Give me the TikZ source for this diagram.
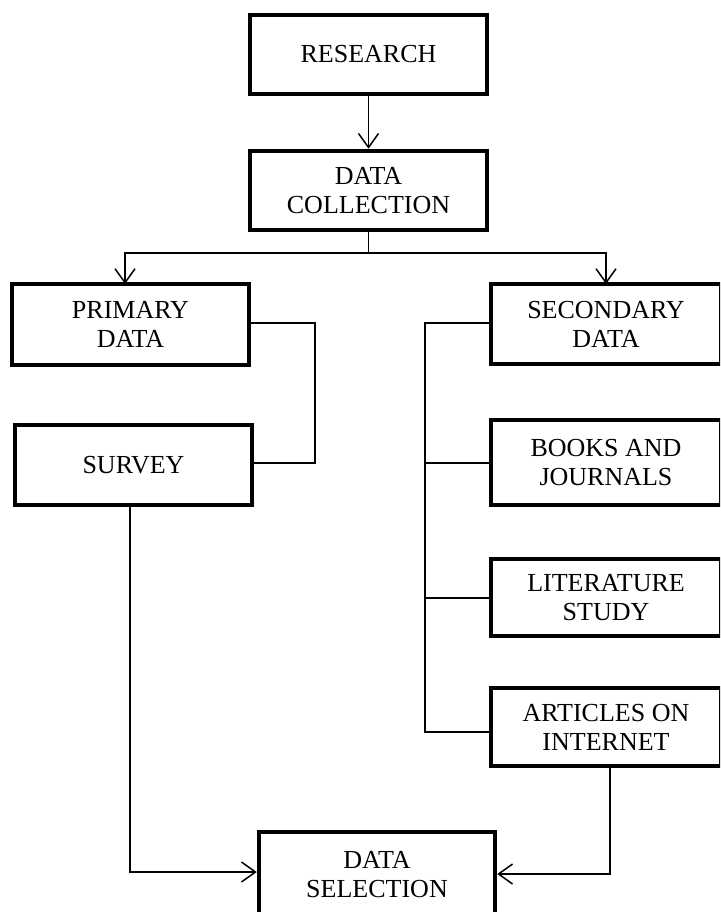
\documentclass[tikz,border=0pt]{standalone}
\usepackage{fontspec}
\setmainfont{Liberation Serif}
\usetikzlibrary{arrows.meta}
\begin{document}
\begin{tikzpicture}[x=1pt,y=-1pt,
  box/.style={draw=black,line width=4.5pt,rectangle,inner sep=0pt,
    minimum width=237pt,align=center,font=\fontsize{26}{29}\selectfont},
  conn/.style={draw=black,line width=1.5pt},
  arr/.style={conn,-{Straight Barb[length=14pt,width=20pt,line width=1.5pt]}}
]
\path[use as bounding box,clip] (0,0) rectangle (720,912);
\fill[white] (0,0) rectangle (720,912);

\node[box,minimum height=79pt] (res) at (368.5,54.5) {RESEARCH};
\node[box,minimum height=79pt] (dc) at (368.5,190.5) {DATA\\COLLECTION};
\node[box,minimum height=81pt] (pri) at (130.5,324.5) {PRIMARY\\DATA};
\node[box,minimum height=80pt] (sur) at (133.5,465) {SURVEY};
\node[box,minimum width=230pt,minimum height=80pt] (sec) at (606,324) {SECONDARY\\DATA};
\node[box,minimum width=230pt,minimum height=85pt] (bj) at (606,462.5) {BOOKS AND\\JOURNALS};
\node[box,minimum width=230pt,minimum height=77pt] (lit) at (606,597.5) {LITERATURE\\STUDY};
\node[box,minimum width=230pt,minimum height=78pt] (art) at (606,727) {ARTICLES ON\\INTERNET};
\node[box,minimum width=236pt,minimum height=85pt] (sel) at (377,874.5) {DATA\\SELECTION};

% research -> data collection
\draw[arr] (res.south) -- (dc.north);

% data collection -> primary / secondary
\coordinate (split) at (368.5,253);
\draw[conn] (dc.south) -- (split);
\draw[arr] (split) -| (125,284) coordinate (pritop);
\draw[arr] (split) -| (606,284) coordinate (sectop);

% primary -> survey
\coordinate (pbend) at (315,323);
\draw[conn] (pri.east |- pbend) -- (pbend) |- (sur.east |- 0,463);

% secondary -> books, literature, articles
\coordinate (sbus) at (425,323);
\draw[conn] (sec.west |- sbus) -- (sbus) |- (art.west |- 0,732);
\draw[conn] (sbus |- 0,463) -- (bj.west |- 0,463);
\draw[conn] (sbus |- 0,598) -- (lit.west |- 0,598);

% survey -> data selection
\draw[arr] (130,505) |- (sel.west |- 0,872);
% articles -> data selection
\draw[arr] (610,766) |- (sel.east |- 0,874);
\end{tikzpicture}
\end{document}
